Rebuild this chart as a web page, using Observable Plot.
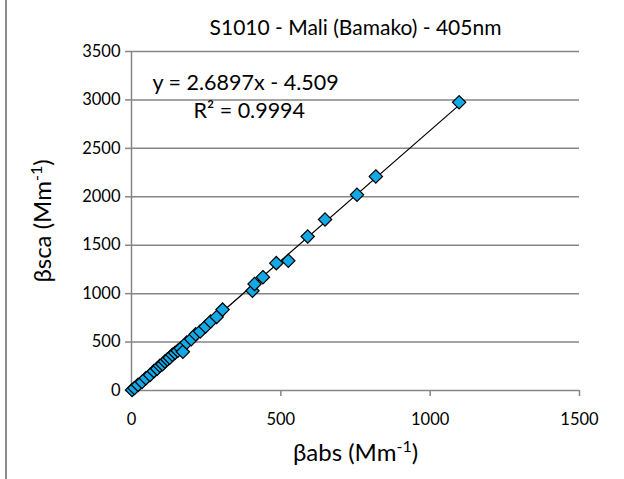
<!DOCTYPE html>
<html><head><meta charset="utf-8">
<script src="https://cdn.jsdelivr.net/npm/d3@7"></script>
<script src="https://cdn.jsdelivr.net/npm/@observablehq/plot@0.6"></script>
<style>
body{margin:0;background:#fff;}
#chart{position:relative;width:624px;height:479px;overflow:hidden;}
#chart::before{content:"";position:absolute;left:5px;top:0;bottom:0;border-left:2px solid #8c8c8c;}
</style></head><body><div id="chart"></div>
<script>
// βabs (x) and βsca (y) values, Mm-1
const absValues = [2, 10, 22, 35, 48, 62, 75, 86, 95, 104, 112, 120, 128, 137, 146, 155, 165, 172, 185, 200, 215, 230, 248, 265, 285, 305, 405, 412, 440, 485, 525, 590, 648, 755, 818, 1097];
const scaValues = [5, 25, 58, 88, 127, 160, 200, 225, 255, 272, 300, 320, 338, 368, 390, 410, 435, 400, 495, 530, 580, 610, 660, 712, 760, 835, 1030, 1100, 1170, 1315, 1340, 1590, 1765, 2020, 2210, 2975];
const xTicks = [0, 500, 1000, 1500];
const yTicks = [0, 500, 1000, 1500, 2000, 2500, 3000, 3500];
const trendSlope = 2.6897;
const trendIntercept = -4.509;
const rSquared = 0.9994;
const titleText = "S1010 - Mali (Bamako) - 405nm";
const xLabel = "βabs (Mm-1)";
const yLabel = "βsca (Mm-1)";

const data = absValues.map((x, i) => ({x, y: scaValues[i]}));
const trend = [0, d3.max(absValues)].map(x => ({x, y: trendSlope * x + trendIntercept}));
const eqText = `y = ${trendSlope}x - ${Math.abs(trendIntercept)}`;
const r2Text = `R² = ${rSquared}`;
const font = "Lato, 'Open Sans', sans-serif";
const grey = "#868686";

const chart = Plot.plot({
  width: 624, height: 479,
  marginLeft: 131, marginRight: 45, marginTop: 51, marginBottom: 89,
  style: {fontFamily: font, fontSize: "16px", color: "#000", background: "#fff", overflow: "visible"},
  x: {domain: [0, 1500], label: null},
  y: {domain: [0, 3500], label: null},
  marks: [
    Plot.gridY(yTicks, {stroke: grey, strokeOpacity: 1, strokeWidth: 1.5}),
    Plot.ruleX([0], {stroke: grey, strokeWidth: 1.5}),
    Plot.axisY(yTicks, {tickSize: 6, tickPadding: 5, stroke: grey, strokeWidth: 1.5, fontSize: 16.5, tickFormat: d => String(d), label: null}),
    Plot.axisX(xTicks, {tickSize: 6, tickPadding: 17, stroke: grey, strokeWidth: 1.5, fontSize: 16.5, tickFormat: d => String(d), label: null}),
    Plot.line(trend, {x: "x", y: "y", stroke: "#000", strokeWidth: 1.2}),
    Plot.dot(data, {x: "x", y: "y", symbol: "diamond2", r: 6, fill: "#13A9E6", stroke: "#000", strokeWidth: 1.2}),
    Plot.text([titleText], {frameAnchor: "top", dy: -31, fontSize: 21, fill: "#000"}),
    Plot.text([eqText], {frameAnchor: "top-left", dx: 21, dy: 32, textAnchor: "start", lineAnchor: "middle", fontSize: 21.5, fill: "#000"}),
    Plot.text([r2Text], {frameAnchor: "top-left", dx: 62, dy: 60, textAnchor: "start", lineAnchor: "middle", fontSize: 21.5, fill: "#000"}),
    Plot.text([xLabel], {frameAnchor: "bottom", dy: 70, fontSize: 24, fill: "#000", className: "xlab"}),
    Plot.text([yLabel], {frameAnchor: "left", dx: -88, rotate: -90, textAnchor: "middle", lineAnchor: "middle", fontSize: 24, fill: "#000", className: "ylab"})
  ]
});
document.getElementById("chart").appendChild(chart);

// render "-1" as superscript
d3.select(chart).selectAll("g.xlab text, g.ylab text").each(function() {
  const t = d3.select(this);
  const s = t.text();
  const m = s.match(/^(.*)(-1)(\))$/);
  if (!m) return;
  t.text(null);
  t.append("tspan").text(m[1]);
  t.append("tspan").attr("font-size", 16).attr("dy", "-9").text(m[2]);
  t.append("tspan").attr("dy", "9").text(m[3]);
});
</script></body></html>
